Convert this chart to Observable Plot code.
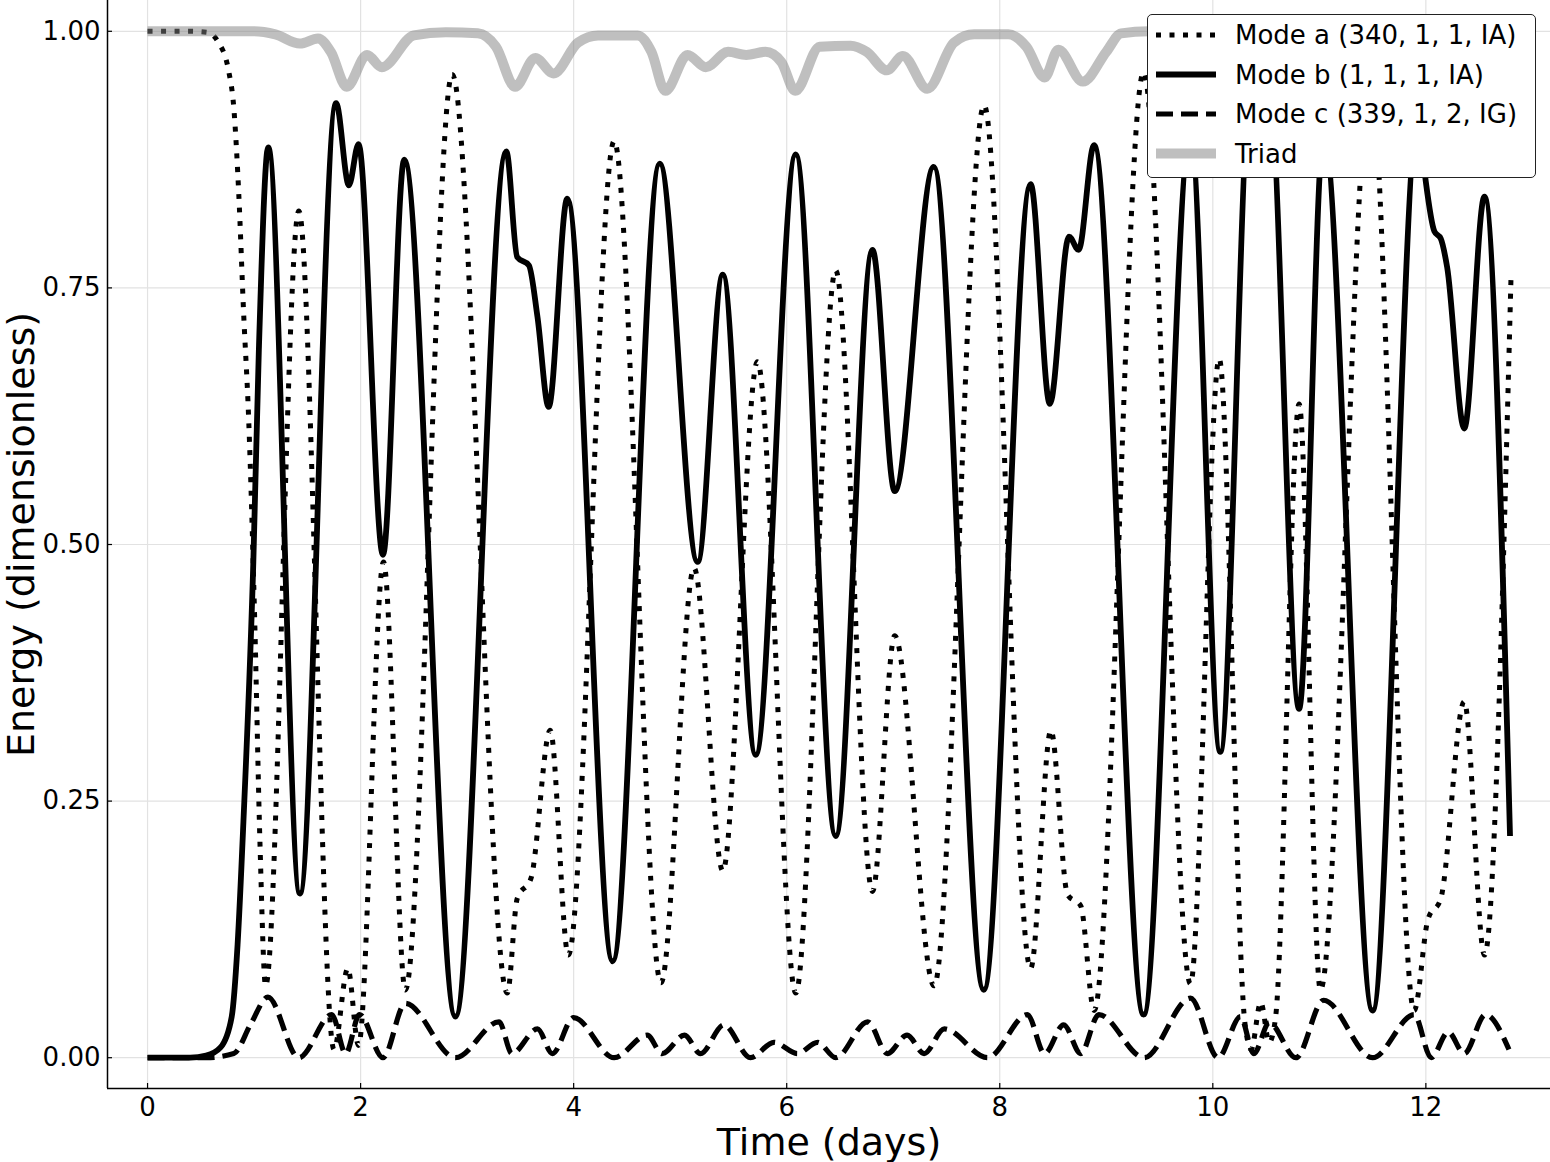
<!DOCTYPE html>
<html>
<head>
<meta charset="utf-8">
<script src="https://cdn.jsdelivr.net/npm/d3@7"></script>
<script src="https://cdn.jsdelivr.net/npm/@observablehq/plot@0.6"></script>
<style>
  html, body { margin: 0; padding: 0; background: white; }
  #wrap { position: relative; width: 1550px; height: 1162px; font-family: "DejaVu Sans", sans-serif; }
  #legend { position: absolute; left: 1147px; top: 14px; width: 389px; height: 164px; box-sizing: border-box;
            background: white; border: 1.3px solid #222; border-radius: 5px; }
</style>
</head>
<body>
<div id="wrap">
  <div id="chart"></div>
  <div id="legend"></div>
</div>
<script>
// ---- axis settings ----
const xDomain = [-0.376, 13.17];
const yDomain = [-0.030, 1.030];
const xTicks = [0, 2, 4, 6, 8, 10, 12];
const yTicks = [0, 0.25, 0.5, 0.75, 1.0];
const xLabel = "Time (days)";
const yLabel = "Energy (dimensionless)";

// ---- series names ----
const seriesNames = ["Mode a (340, 1, 1, IA)", "Mode b (1, 1, 1, IA)", "Mode c (339, 1, 2, IG)", "Triad"];

// ---- data: [time (days), energy] ----
const modeA = [
  [0,1.0],[0.4,1.0],[0.56,0.999],[0.66,0.99],[0.76,0.962],[0.81,0.925],[0.857,0.84],[0.9,0.73],[0.95,0.62],
  [1.005,0.43],[1.055,0.21],[1.108,0.07],[1.42,0.825],[1.75,0.008],[1.88,0.087],[1.98,0.012],[2.215,0.483],
  [2.42,0.066],[2.86,0.958],[3.377,0.063],[3.47,0.155],[3.60,0.175],[3.78,0.319],[3.95,0.10],[4.38,0.893],
  [4.82,0.073],[5.13,0.477],[5.40,0.182],[5.725,0.678],[6.085,0.063],[6.46,0.767],[6.805,0.162],[7.014,0.411],
  [7.383,0.07],[7.853,0.928],[8.29,0.087],[8.48,0.319],[8.636,0.159],[8.76,0.148],[8.886,0.046],[9.35,0.96],
  [9.79,0.072],[10.06,0.681],[10.30,0.035],[10.36,0.008],[10.45,0.054],[10.53,0.015],[10.59,0.04],[10.81,0.637],
  [11.01,0.066],[11.48,0.95],[11.89,0.046],[12.02,0.135],[12.14,0.155],[12.36,0.347],[12.55,0.10],[12.80,0.763]
];
const modeB = [
  [0,0],[0.4,0],[0.55,0.002],[0.685,0.01],[0.79,0.04],[0.845,0.11],[0.90,0.23],[0.993,0.483],[1.045,0.69],
  [1.133,0.887],[1.43,0.16],[1.77,0.93],[1.89,0.85],[1.98,0.89],[2.21,0.49],[2.41,0.875],[2.89,0.04],
  [3.368,0.883],[3.47,0.78],[3.58,0.772],[3.66,0.722],[3.765,0.634],[3.94,0.837],[4.366,0.094],[4.808,0.871],
  [5.164,0.483],[5.40,0.763],[5.709,0.295],[6.085,0.88],[6.46,0.216],[6.805,0.787],[7.014,0.552],[7.38,0.868],
  [7.85,0.066],[8.29,0.851],[8.47,0.637],[8.65,0.80],[8.74,0.787],[8.885,0.889],[9.35,0.042],[9.79,0.90],
  [10.07,0.298],[10.36,0.95],[10.45,0.91],[10.53,0.94],[10.81,0.34],[11.04,0.90],[11.50,0.046],[11.93,0.92],
  [12.00,0.853],[12.08,0.805],[12.14,0.798],[12.20,0.77],[12.36,0.613],[12.55,0.839],[12.79,0.216]
];
const modeC = [
  [0,0],[0.55,0],[0.81,0.004],[0.97,0.033],[1.13,0.059],[1.42,0.0],[1.73,0.042],[1.86,0.004],[1.99,0.042],
  [2.21,0.0],[2.42,0.053],[2.89,0.0],[3.30,0.035],[3.42,0.004],[3.66,0.028],[3.80,0.004],[4.00,0.039],
  [4.38,0.0],[4.69,0.022],[4.83,0.004],[5.04,0.022],[5.19,0.004],[5.41,0.032],[5.66,0.0],[5.88,0.015],
  [6.10,0.004],[6.29,0.015],[6.46,0.0],[6.76,0.035],[6.945,0.004],[7.13,0.022],[7.29,0.004],[7.48,0.028],
  [7.885,0.0],[8.26,0.042],[8.42,0.004],[8.60,0.032],[8.76,0.004],[8.93,0.042],[9.355,0.0],[9.79,0.058],
  [10.05,0.0],[10.26,0.04],[10.385,0.004],[10.53,0.034],[10.78,0.0],[11.04,0.056],[11.50,0.0],[11.89,0.042],
  [12.05,0.0],[12.21,0.025],[12.36,0.004],[12.56,0.042],[12.78,0.008]
];
const triad = [
  [0,1.0],[1.0,1.0],[1.2,0.997],[1.43,0.988],[1.6,0.993],[1.72,0.98],[1.87,0.946],[2.06,0.977],[2.2,0.965],
  [2.5,0.996],[2.8,0.999],[3.1,0.998],[3.27,0.985],[3.45,0.946],[3.64,0.974],[3.81,0.959],[4.04,0.989],
  [4.23,0.996],[4.6,0.996],[4.73,0.98],[4.86,0.942],[5.07,0.977],[5.24,0.965],[5.45,0.98],[5.62,0.977],
  [5.8,0.98],[5.95,0.97],[6.08,0.942],[6.31,0.985],[6.6,0.986],[6.75,0.98],[6.94,0.962],[7.09,0.976],
  [7.32,0.944],[7.57,0.989],[7.76,0.997],[8.08,0.997],[8.25,0.985],[8.42,0.955],[8.55,0.982],[8.78,0.951],
  [9.0,0.98],[9.14,0.998],[9.4,1.0],[9.8,0.97],[10.1,0.99],[10.45,0.96],[10.8,0.99],[11.1,0.97],[11.5,0.995],
  [11.9,0.96],[12.2,0.98],[12.5,0.97],[12.79,0.99]
];

// ---- styles per series ----
const seriesStyles = [
  {stroke: "black", strokeWidth: 5, strokeDasharray: "5 8.5", strokeOpacity: 1, strokeLinecap: "butt"},
  {stroke: "black", strokeWidth: 5.8, strokeDasharray: null, strokeOpacity: 1, strokeLinecap: "butt"},
  {stroke: "black", strokeWidth: 5.2, strokeDasharray: "17 8", strokeOpacity: 1, strokeLinecap: "butt"},
  {stroke: "#808080", strokeWidth: 10, strokeDasharray: null, strokeOpacity: 0.5, strokeLinecap: "butt"}
];
const seriesData = [modeA, modeB, modeC, triad];

const toRows = (arr) => arr.map(([t, v]) => ({t, v}));

const lineMarks = seriesData.map((arr, i) => {
  const s = seriesStyles[i];
  const opts = {x: "t", y: "v", curve: "monotone-x", stroke: s.stroke, strokeWidth: s.strokeWidth,
                strokeOpacity: s.strokeOpacity, strokeLinecap: s.strokeLinecap, strokeLinejoin: "round"};
  if (s.strokeDasharray) opts.strokeDasharray = s.strokeDasharray;
  return Plot.line(toRows(arr), opts);
});

const chart = Plot.plot({
  width: 1550,
  height: 1162,
  marginLeft: 107,
  marginRight: 0,
  marginTop: 0,
  marginBottom: 74,
  style: {fontFamily: "DejaVu Sans", fontSize: "26px", background: "white", color: "black", overflow: "visible"},
  x: {domain: xDomain},
  y: {domain: yDomain},
  marks: [
    Plot.gridX(xTicks, {stroke: "#e2e2e2", strokeOpacity: 1, strokeWidth: 1.2}),
    Plot.gridY(yTicks, {stroke: "#e2e2e2", strokeOpacity: 1, strokeWidth: 1.2}),
    ...lineMarks,
    Plot.ruleX([xDomain[0]], {stroke: "black", strokeWidth: 1.5}),
    Plot.ruleY([yDomain[0]], {stroke: "black", strokeWidth: 1.5}),
    Plot.axisX(xTicks, {tickSize: -5, tickPadding: 14, fontSize: 26, label: null, tickFormat: d => String(d), strokeWidth: 1.2}),
    Plot.axisY(yTicks, {tickSize: -5, tickPadding: 12, fontSize: 26, label: null, tickFormat: d3.format(".2f"), strokeWidth: 1.2}),
    Plot.text([xLabel], {text: d => d, frameAnchor: "bottom", textAnchor: "middle", lineAnchor: "middle", dy: 54, fontSize: 38, fill: "black"}),
    Plot.text([yLabel], {text: d => d, frameAnchor: "left", textAnchor: "middle", lineAnchor: "middle", dx: -86, dy: -10, rotate: -90, fontSize: 38, fill: "black"})
  ]
});
document.getElementById("chart").appendChild(chart);

// ---- legend (overlaid inside the axes, top right) ----
const lg = d3.select("#legend").append("svg").attr("width", 387).attr("height", 162)
  .style("display", "block");
seriesNames.forEach((name, i) => {
  const s = seriesStyles[i];
  const cy = 20 + i * 39.5;
  const ln = lg.append("line").attr("x1", 8).attr("x2", 68).attr("y1", cy).attr("y2", cy)
    .attr("stroke", s.stroke).attr("stroke-width", s.strokeWidth).attr("stroke-opacity", s.strokeOpacity)
    .attr("stroke-linecap", "butt");
  if (s.strokeDasharray) ln.attr("stroke-dasharray", s.strokeDasharray);
  lg.append("text").attr("x", 87).attr("y", cy).attr("dy", "0.36em")
    .attr("font-family", "DejaVu Sans").attr("font-size", 26).attr("fill", "black").text(name);
});
</script>
</body>
</html>
